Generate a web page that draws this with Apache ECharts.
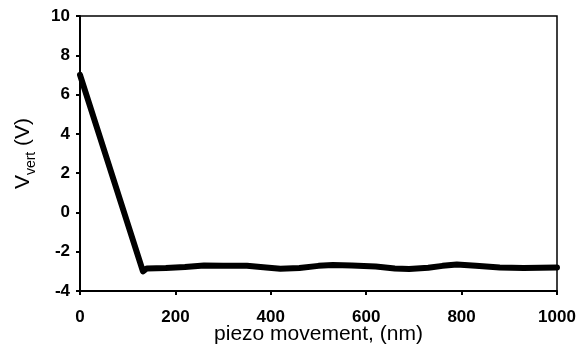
<!DOCTYPE html>
<html>
<head>
<meta charset="utf-8">
<script src="https://cdn.jsdelivr.net/npm/echarts@6/dist/echarts.min.js"></script>
<style>
  html, body { margin: 0; padding: 0; background: #fff; }
  #chart { width: 581px; height: 349px; }
</style>
</head>
<body>
<div id="chart"></div>
<script>
// piezo movement (nm) and vertical deflection signal (V)
const piezoNm = [0, 132, 140, 180, 220, 260, 300, 350, 390, 420, 460, 500, 530, 570, 620, 660, 690, 730, 760, 790, 830, 880, 930, 1000]
const vVert = [7.0, -3.0, -2.85, -2.83, -2.78, -2.7, -2.72, -2.72, -2.8, -2.87, -2.83, -2.72, -2.68, -2.7, -2.75, -2.85, -2.88, -2.82, -2.72, -2.65, -2.72, -2.8, -2.83, -2.8]
const xTicks = [0, 200, 400, 600, 800, 1000]
const yTicks = [-4, -2, 0, 2, 4, 6, 8, 10]

const points = piezoNm.map((x, i) => [x, vVert[i]])

const chart = echarts.init(document.getElementById('chart'))
const font = 'Liberation Sans, Arial, sans-serif'

chart.setOption({
    animation: false,
    grid: {
        left: 80,
        right: 24,
        top: 16,
        bottom: 58,
        outerBoundsMode: 'none',
        show: true,
        borderColor: '#000',
        borderWidth: 1.5,
        backgroundColor: 'transparent'
    },
    xAxis: {
        type: 'value',
        min: xTicks[0],
        max: xTicks[xTicks.length - 1],
        interval: 200,
        name: 'piezo movement, (nm)',
        nameLocation: 'middle',
        nameGap: 33,
        nameMoveOverlap: false,
        nameTextStyle: { color: '#000', fontSize: 21, fontFamily: font },
        axisLine: { onZero: false, lineStyle: { color: '#000', width: 2 } },
        axisTick: { show: true, inside: false, length: 4, lineStyle: { color: '#000', width: 2 } },
        axisLabel: { color: '#000', fontSize: 17, fontWeight: 'bold', fontFamily: font, margin: 18, formatter: v => String(v) },
        splitLine: { show: false }
    },
    yAxis: {
        type: 'value',
        min: yTicks[0],
        max: yTicks[yTicks.length - 1],
        interval: 2,
        name: '{v|V}{s|vert}{v| (V)}',
        nameLocation: 'middle',
        nameGap: 46,
        nameRotate: 90,
        nameTextStyle: {
            rich: {
                v: { color: '#000', fontSize: 21, fontFamily: font, verticalAlign: 'bottom' },
                s: { color: '#000', fontSize: 14, fontFamily: font, verticalAlign: 'bottom', padding: [0, 0, -4, 0] }
            }
        },
        axisLine: { show: true, onZero: false, lineStyle: { color: '#000', width: 2 } },
        axisTick: { show: true, inside: false, length: 4, lineStyle: { color: '#000', width: 2 } },
        axisLabel: { color: '#000', fontSize: 17, fontWeight: 'bold', fontFamily: font, margin: 10 },
        splitLine: { show: false }
    },
    series: [
        {
            type: 'line',
            data: points,
            showSymbol: false,
            lineStyle: { color: '#000', width: 6, cap: 'round', join: 'round' }
        }
    ]
})
</script>
</body>
</html>
